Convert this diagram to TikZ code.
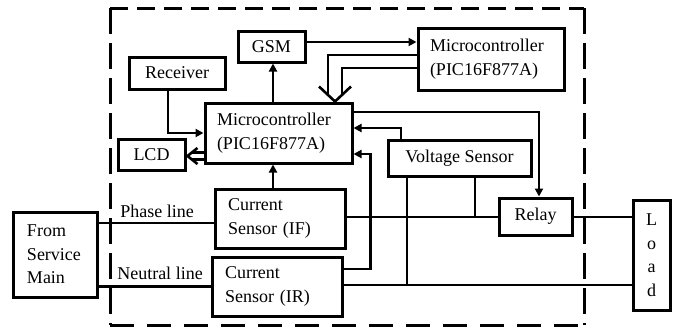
\documentclass[tikz,border=0pt]{standalone}
\usepackage{fontspec}
\setmainfont{Liberation Serif}
\usetikzlibrary{arrows.meta,calc}
\begin{document}
\begin{tikzpicture}[x=1pt,y=-1pt,
  box/.style={draw,line width=3pt,inner sep=0pt,font=\fontsize{18}{23.5}\selectfont},
  conn/.style={line width=2.6pt},
  arr/.style={conn,-{Triangle[length=8pt,width=8pt]}},
  hollow/.style={line width=2.6pt,line join=miter},
  lbl/.style={font=\fontsize{18}{22}\selectfont,inner sep=0pt},
  frame/.style={line width=3pt}]
\useasboundingbox (0,0) rectangle (678,327);
% dashed frame, one side at a time
\coordinate (f1) at (110,8);
\coordinate (f2) at (584,8);
\coordinate (f3) at (584,325);
\coordinate (f4) at (110,325);
\draw[frame,dash pattern=on 18pt off 9pt] (f1) -- (f2);
\draw[frame,dash pattern=on 26pt off 9pt] (f2) -- (f3);
\draw[frame,dash pattern=on 24pt off 13pt] (f4) -- (f3);
\draw[frame,dash pattern=on 26pt off 9pt] (f1) -- (f4);
% nodes
\node[box,minimum width=67pt,minimum height=31pt] (gsm) at (271.5,46.5) {GSM};
\node[box,minimum width=96pt,minimum height=32pt] (rec) at (177,73) {Receiver};
\node[box,minimum width=147pt,minimum height=60pt,text width=123pt,align=left] (mc1) at (278.5,133) {Microcontroller\\(PIC16F877A)};
\node[box,minimum width=67pt,minimum height=31pt] (lcd) at (151.5,154.5) {LCD};
\node[box,minimum width=146pt,minimum height=62pt,text width=122pt,align=left] (mc2) at (491,59) {Microcontroller\\(PIC16F877A)};
\node[box,minimum width=143pt,minimum height=36pt] (vs) at (459.5,158) {Voltage Sensor};
\node[box,minimum width=130pt,minimum height=59pt,text width=104pt,align=left] (csf) at (280,218.5) {Current\\Sensor (IF)};
\node[box,minimum width=130pt,minimum height=59pt,text width=104pt,align=left] (csr) at (277,286.5) {Current\\Sensor (IR)};
\node[box,minimum width=73pt,minimum height=37pt] (relay) at (535.5,216.5) {Relay};
\node[box,minimum width=37pt,minimum height=110pt,align=center] (load) at (651.5,255) {L\\o\\a\\d};
\node[box,minimum width=84pt,minimum height=85pt,text width=56pt,align=left] (fsm) at (55,254.5) {From\\Service\\Main};
\node[lbl] (phl) at (157,211) {Phase line};
\node[lbl] (ntl) at (160,273) {Neutral line};
% connectors
\coordinate (cx) at (273,0);
\draw[arr] ($(gsm.east)+(0,-4.5)$) -- ($(mc2.west)+(0,-17)$);
\draw[arr] (mc1.north -| cx) -- (gsm.south -| cx);
\draw[arr] (csf.north -| cx) -- (mc1.south -| cx);
\draw[arr] ($(rec.south)+(-9,0)$) |- (mc1.west);
% hollow arrow to LCD
\coordinate (lt) at ($(lcd.east)+(1,1.5)$);
\draw[hollow] ($(mc1.west)+(0,19.7)$) -- ($(lt)+(4.1,-3.3)$);
\draw[hollow] ($(mc1.west)+(0,26.3)$) -- ($(lt)+(4.1,3.3)$);
\draw[hollow] ($(lt)+(10,-8)$) -- (lt) -- ($(lt)+(10,8)$);
% hollow double arrow from mc2 to mc1
\coordinate (tt) at ($(mc1.north)+(56.5,0)$);
\draw[hollow] ($(mc2.west)+(0,-4)$) -| ($(tt)+(-7,-6.6)$);
\draw[hollow] ($(mc2.west)+(0,9)$) -| ($(tt)+(7,-6.6)$);
\draw[hollow] ($(tt)+(-16,-15)$) -- (tt) -- ($(tt)+(16,-15)$);
% mc1 to relay
\draw[arr] ($(mc1.east)+(0,-21)$) -| ($(relay.north)+(3.5,0)$);
% voltage sensor to mc1
\draw[arr] ($(vs.north)+(-58.5,0)$) |- ($(mc1.east)+(0,-5)$);
% current sensor IR to mc1
\draw[arr] ($(csr.east)+(0,-17.5)$) -- ++(27,0) |- ($(mc1.east)+(0,21)$);
% phase and neutral lines
\draw[conn] ($(fsm.east)+(0,-31.5)$) -- ($(csf.west)+(0,4.5)$);
\draw[conn] ($(fsm.east)+(0,32)$) -- (csr.west);
\coordinate (pl) at ($(csf.east)+(0,-1.5)$);
\coordinate (nl) at ($(csr.east)+(0,-1.5)$);
\draw[conn] (pl) -- (relay.west |- pl);
\draw[conn] (relay.east |- pl) -- (load.west |- pl);
\draw[conn] (nl) -- (load.west |- nl);
\coordinate (vl) at ($(vs.south)+(-52.5,0)$);
\coordinate (vr) at ($(vs.south)+(15.5,0)$);
\draw[conn] (vl) -- (vl |- nl);
\draw[conn] (vr) -- (vr |- pl);
\end{tikzpicture}
\end{document}
